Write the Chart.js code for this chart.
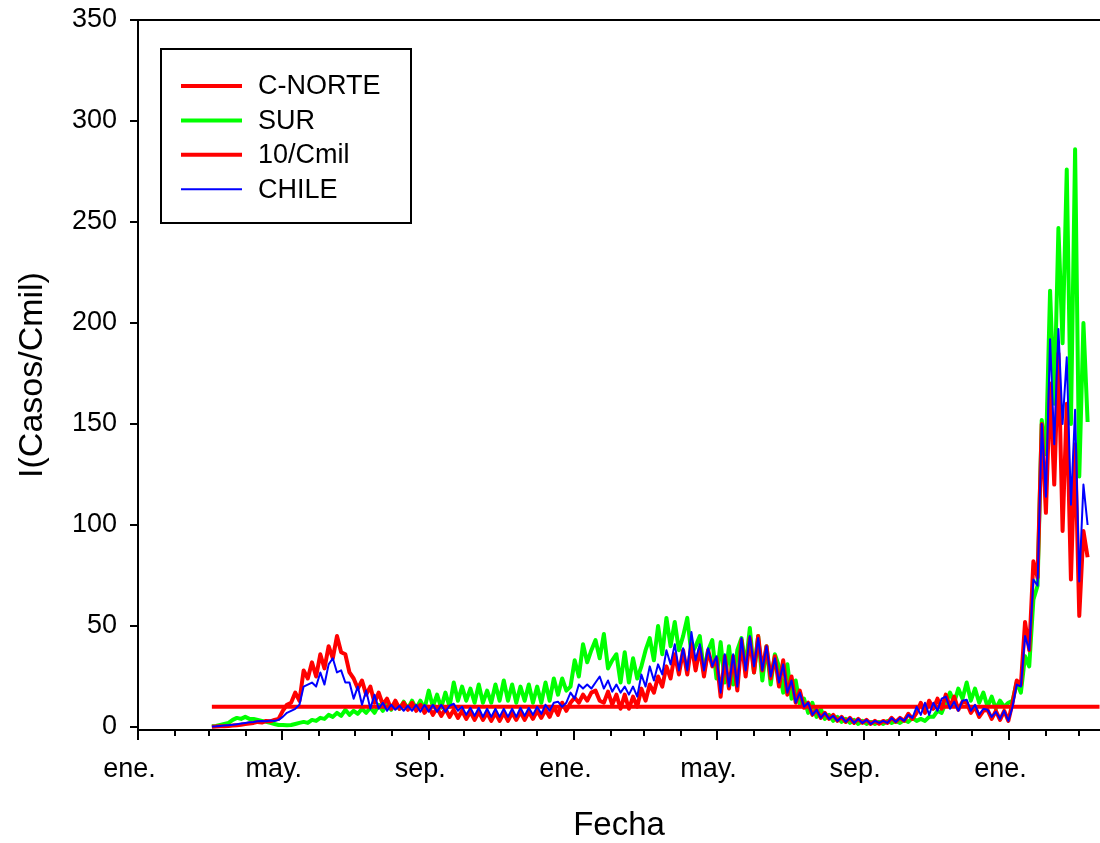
<!DOCTYPE html>
<html>
<head>
<meta charset="utf-8">
<script src="https://cdn.jsdelivr.net/npm/chart.js@4.4.1/dist/chart.umd.min.js"></script>
<style>
    html, body { margin: 0; padding: 0; background: #fff; }
    #wrap { width: 1100px; height: 843px; }
</style>
</head>
<body>
<div id="wrap"><canvas id="grafico" width="1100" height="843"></canvas></div>
<script>
// Fechas en días desde el 1 de enero de 2020 (un punto cada 3,5 días desde el 2 de marzo)
const diaInicio = 62;
const pasoDias = 3.5;

const cNorte = [
    0.1, 0.2, 0.3, 0.4, 0.5, 0.7, 0.9, 1.1, 1.4, 1.7,
    2, 2.5, 2.2, 3, 2.8, 3.5, 4, 8, 11, 12,
    17, 13, 28, 24, 32, 25, 36, 29, 40, 34,
    45, 37, 36, 27, 24, 19, 23, 16, 20, 12,
    17, 11, 14, 9, 13, 9, 12, 8.5, 12, 8,
    11, 7, 10, 6, 9.5, 5.5, 9, 5, 8.5, 4.5,
    8, 4, 7.5, 3.5, 7.5, 3.5, 7, 3, 7, 3,
    7, 3, 7, 3.5, 7.5, 3.5, 7.5, 4, 8, 4.5,
    8.5, 5, 10, 6, 12, 8, 12, 14.5, 12, 16,
    13, 17, 18, 13, 12, 17.5, 11, 16, 9, 16,
    9, 15, 10, 19, 13, 21, 17, 25, 20, 30,
    24, 36, 26, 38, 26, 41, 28, 39, 25, 38,
    30, 34, 15, 35, 19, 35, 18, 43, 25, 44,
    27, 45, 28, 40, 24, 35, 20, 33, 16, 25,
    12, 18, 9.5, 12, 6, 8.5, 4.5, 7, 4, 6,
    3, 5, 2.5, 4.5, 2, 4, 2, 3.5, 1.5, 3,
    1.5, 3, 2, 4.5, 2.5, 4.5, 3, 6.5, 4, 7,
    12, 7, 13, 9, 14, 9, 16, 10, 15, 8.5,
    12.5, 12, 7, 10, 5, 8, 8.5, 4, 8, 3.5,
    8, 3, 12, 23, 21, 52, 38, 82, 74, 150,
    106, 170, 120, 185, 97, 160, 73, 140, 55, 97, 84
];

const sur = [
    0.3, 0.5, 1, 1.5, 2, 3.5, 4.5, 4, 5, 4,
    4, 3.5, 3, 2.5, 2, 1.5, 1, 1, 0.8, 1,
    1.5, 2, 2.5, 2, 3.5, 3, 4.5, 4, 6, 5,
    7, 5.5, 8.5, 6, 8, 6.5, 9, 7, 9.5, 7,
    11, 8, 12, 8.5, 12, 9, 12.5, 9, 13, 9,
    13, 9, 18, 10, 16, 9.5, 17, 10, 22, 13,
    20, 13, 19, 12, 21, 12, 18, 12, 21, 13,
    23, 13, 21, 12, 20, 13, 21, 12, 20, 12,
    22, 13, 24, 16, 24, 18, 20, 33, 25, 41,
    32, 38, 43, 34, 46, 29, 33, 36, 22, 37,
    22, 34, 24, 30, 38, 44, 33, 50, 36, 54,
    40, 52, 38, 45, 54, 36, 40, 45, 27, 38,
    43, 24, 42, 22, 40, 21, 38, 44, 30, 49,
    27, 45, 23, 40, 21, 36, 30, 17, 31, 14,
    23, 11, 14, 7, 12, 5, 9, 4, 6, 3,
    5, 2.5, 4, 2, 3.5, 1.5, 3, 1.5, 2.5, 1.5,
    2.5, 1.5, 3, 2, 3, 2, 3.5, 2.5, 4.5, 3,
    4, 3, 5, 5, 8, 7, 12, 17, 12, 19,
    14, 22, 13, 19, 12, 17, 10, 15, 9, 13,
    10, 12, 13, 22, 17, 35, 30, 63, 70, 152,
    135, 216, 160, 247, 190, 276, 150, 286, 124, 200, 151
];

const chile = [
    0.2, 0.3, 0.5, 0.7, 0.9, 1.1, 1.4, 1.7, 2, 2.3,
    2.5, 2.8, 3, 2.8, 3.2, 3, 3.5, 5, 7, 8,
    9, 11, 20, 21, 22, 20, 27, 21, 31, 34,
    27, 28, 22, 22, 14, 20, 11, 18, 9, 16,
    9, 12, 8, 11, 8.5, 10.5, 8, 10.5, 8, 11,
    7.5, 11, 7.5, 11, 7.5, 11, 7.5, 10.5, 11.5, 8,
    10, 6, 9.5, 5.5, 9.5, 5, 9, 5, 9, 5,
    9, 5, 9, 5, 9.5, 5.5, 9.5, 6, 10, 6.5,
    11, 8, 12, 12.5, 10, 12, 17, 14, 21, 19,
    21, 19, 22, 25, 19, 23, 17.5, 21, 17, 20,
    16, 20, 15, 26, 20, 30, 23, 31, 26, 38,
    31, 41, 28, 39, 28, 47, 33, 41, 28, 39,
    30, 35, 17, 36, 20, 36, 20, 44, 28, 45,
    30, 44, 28, 40, 25, 34, 22, 31, 17, 23,
    12, 17, 10, 12, 6, 8.5, 4.5, 7, 4, 5.5,
    3, 5, 2.5, 4.5, 2, 4, 2, 3.5, 1.5, 3,
    2, 3, 2, 4.4, 2.5, 4.5, 3, 6, 4.5, 10,
    6, 12, 6, 12, 8, 14, 15, 9, 12.5, 8,
    13, 13.5, 8, 11, 6, 9, 8.5, 5, 7.5, 4,
    8, 3, 10, 21, 20, 45, 38, 73, 70, 150,
    114, 192, 140, 197, 150, 183, 110, 157, 72, 120, 100
];

// Umbral de 10 casos por cien mil
const umbralDias = [62, 807];
const umbral = [10, 10];

// Eje de fechas: meses con etiqueta y meses sin etiqueta
const ticksMeses = [0, 121, 244, 366, 486, 609, 731];
const etiquetasMeses = ["ene.", "may.", "sep.", "ene.", "may.", "sep.", "ene."];
const mesesMenores = [31, 60, 91, 152, 182, 213, 274, 305, 335, 397, 425, 456, 517, 547, 578, 639, 670, 700, 762, 790];
const ticksY = [0, 50, 100, 150, 200, 250, 300, 350];

const dias = cNorte.map((_, i) => diaInicio + i * pasoDias);
const puntos = serie => serie.map((v, i) => ({ x: dias[i], y: v }));

const fuente = "'Liberation Sans', Arial, sans-serif";

// Línea superior, marcas menores del eje x y leyenda con recuadro
const extras = {
    id: "extras",
    afterDraw(chart) {
        const { ctx, chartArea, scales: { x } } = chart;
        ctx.save();
        ctx.strokeStyle = "#000";
        ctx.lineWidth = 2;
        ctx.beginPath();
        ctx.moveTo(chartArea.left - 1, chartArea.top);
        ctx.lineTo(chartArea.right, chartArea.top);
        mesesMenores.forEach(d => {
            const px = Math.round(x.getPixelForValue(d));
            ctx.moveTo(px, chartArea.bottom);
            ctx.lineTo(px, chartArea.bottom + 6);
        });
        ctx.stroke();

        // leyenda
        ctx.fillStyle = "#fff";
        ctx.fillRect(161, 49, 250, 174);
        ctx.strokeRect(161, 49, 250, 174);
        ctx.font = "27px " + fuente;
        ctx.textBaseline = "middle";
        chart.data.datasets.forEach((ds, i) => {
            const y = 86 + i * 34.4;
            ctx.strokeStyle = ds.borderColor;
            ctx.lineWidth = ds.borderWidth;
            ctx.beginPath();
            ctx.moveTo(181, y);
            ctx.lineTo(242, y);
            ctx.stroke();
            ctx.fillStyle = "#000";
            ctx.fillText(ds.label, 258, y + 1);
        });
        ctx.restore();
    }
};

new Chart(document.getElementById("grafico"), {
    type: "line",
    data: {
        datasets: [
            { label: "C-NORTE", data: puntos(cNorte), borderColor: "#ff0000", borderWidth: 4, order: 2 },
            { label: "SUR", data: puntos(sur), borderColor: "#00ff00", borderWidth: 4, order: 3 },
            { label: "10/Cmil", data: umbralDias.map((d, i) => ({ x: d, y: umbral[i] })), borderColor: "#ff0000", borderWidth: 4, order: 1 },
            { label: "CHILE", data: puntos(chile), borderColor: "#0000ff", borderWidth: 2, order: 0 }
        ]
    },
    options: {
        responsive: false,
        animation: false,
        layout: { padding: { top: 20, right: 0, left: 0, bottom: 0 } },
        elements: { point: { radius: 0 }, line: { tension: 0, borderJoinStyle: "round" } },
        plugins: { legend: { display: false }, tooltip: { enabled: false } },
        scales: {
            x: {
                type: "linear",
                min: 0,
                max: 807.4,
                afterBuildTicks: s => { s.ticks = ticksMeses.map(v => ({ value: v })); },
                afterFit: s => { s.height = 113; s.paddingLeft = 0; s.paddingRight = 0; },
                ticks: {
                    callback: v => etiquetasMeses[ticksMeses.indexOf(v)],
                    autoSkip: false,
                    maxRotation: 0,
                    labelOffset: -8.5,
                    color: "#000",
                    padding: 13,
                    font: { family: fuente, size: 27 }
                },
                grid: { drawOnChartArea: false, tickLength: 10, color: "#000", lineWidth: 2 },
                border: { color: "#000", width: 2 },
                title: {
                    display: true,
                    text: "Fecha",
                    color: "#000",
                    font: { family: fuente, size: 33 },
                    padding: { top: 0, bottom: -3 }
                }
            },
            y: {
                min: -1.5,
                max: 350,
                afterBuildTicks: s => { s.ticks = ticksY.map(v => ({ value: v })); },
                afterFit: s => { s.width = 138; s.paddingTop = 0; s.paddingBottom = 0; },
                ticks: {
                    color: "#000",
                    padding: 13,
                    font: { family: fuente, size: 27 }
                },
                grid: { drawOnChartArea: false, tickLength: 8, color: "#000", lineWidth: 2 },
                border: { color: "#000", width: 2 },
                title: {
                    display: true,
                    text: "I(Casos/Cmil)",
                    color: "#000",
                    font: { family: fuente, size: 34 },
                    padding: { top: 12, bottom: 0 }
                }
            }
        }
    },
    plugins: [extras]
});
</script>
</body>
</html>
